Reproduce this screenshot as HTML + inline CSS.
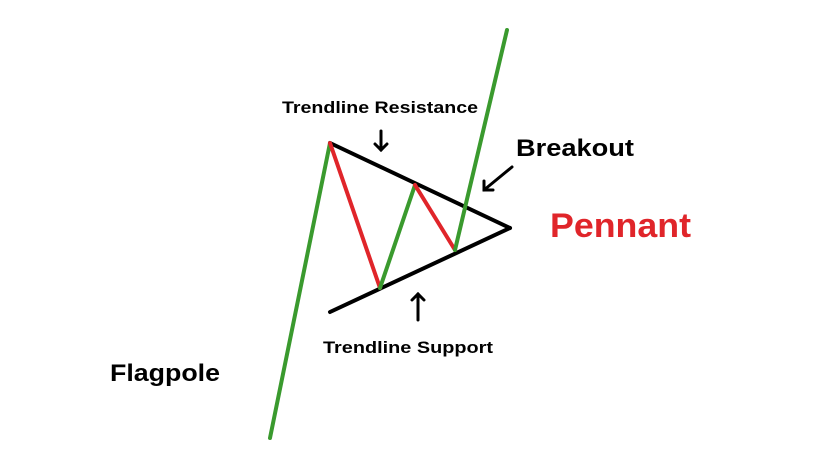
<!DOCTYPE html>
<html><head><meta charset="utf-8"><style>html,body{margin:0;padding:0;background:#fff}svg{display:block}</style></head>
<body>
<svg width="833" height="460" viewBox="0 0 833 460" xmlns="http://www.w3.org/2000/svg">
<rect width="833" height="460" fill="#fff"/>
<g stroke-linecap="round" fill="none">
<line x1="270" y1="438" x2="330" y2="143" stroke="#3a9a2e" stroke-width="4"/>
<line x1="330" y1="143" x2="510" y2="228" stroke="#000" stroke-width="4"/>
<line x1="330" y1="312" x2="510" y2="228" stroke="#000" stroke-width="4"/>
<line x1="330" y1="143" x2="380" y2="288" stroke="#e0252a" stroke-width="4"/>
<line x1="380" y1="288" x2="415" y2="185" stroke="#3a9a2e" stroke-width="4"/>
<line x1="415" y1="185" x2="455" y2="250" stroke="#e0252a" stroke-width="4"/>
<line x1="455" y1="250" x2="507" y2="30" stroke="#3a9a2e" stroke-width="4"/>
<g stroke="#000" stroke-width="3">
<line x1="381" y1="131" x2="381" y2="150"/><polyline points="375,144 381,150 387,144"/>
<line x1="512" y1="167" x2="484" y2="190"/><polyline points="484,181 484,190 493,190"/>
<line x1="418" y1="320" x2="418" y2="294"/><polyline points="412,300 418,294 424,300"/>
</g>
</g>
<g font-family="Liberation Sans, sans-serif" font-weight="bold">
<text x="282" y="113" font-size="17" textLength="196" lengthAdjust="spacingAndGlyphs">Trendline Resistance</text>
<text x="516" y="156" font-size="24" textLength="118" lengthAdjust="spacingAndGlyphs">Breakout</text>
<text x="550" y="237" font-size="34" fill="#e0252a" textLength="141" lengthAdjust="spacingAndGlyphs">Pennant</text>
<text x="323" y="353" font-size="17" textLength="170" lengthAdjust="spacingAndGlyphs">Trendline Support</text>
<text x="110" y="381" font-size="24" textLength="110" lengthAdjust="spacingAndGlyphs">Flagpole</text>
</g>
</svg>
</body></html>
